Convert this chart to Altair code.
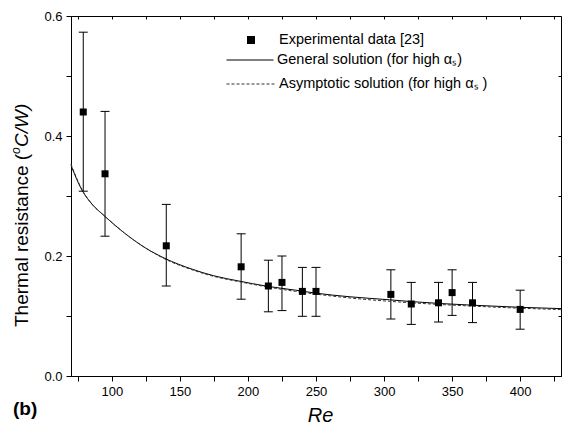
import altair as alt
import pandas as pd

# Experimental data [23]
re_exp = [79, 95, 140, 195, 215, 225, 240, 250, 305, 320, 340, 350, 365, 400]
r_exp = [0.440, 0.337, 0.217, 0.182, 0.150, 0.156, 0.141, 0.141, 0.136, 0.120, 0.122, 0.139, 0.122, 0.111]
r_hi = [0.573, 0.441, 0.286, 0.237, 0.193, 0.200, 0.181, 0.181, 0.177, 0.156, 0.156, 0.177, 0.156, 0.143]
r_lo = [0.308, 0.233, 0.150, 0.128, 0.107, 0.109, 0.0995, 0.0995, 0.095, 0.086, 0.090, 0.101, 0.089, 0.078]

# General solution
re_gen = [70, 78, 86, 94, 110, 125, 139, 159, 175, 194, 213, 235, 250, 275, 304, 320, 365, 400, 430]
r_gen = [0.351, 0.310, 0.285, 0.268, 0.237, 0.213, 0.196, 0.178, 0.167, 0.158, 0.150, 0.143, 0.138,
         0.132, 0.127, 0.124, 0.118, 0.1145, 0.1123]

# Asymptotic solution
re_asy = [70, 78, 86, 94, 110, 125, 139, 159, 175, 194, 213, 235, 250, 275, 304, 320, 365, 400, 430]
r_asy = [0.353, 0.311, 0.285, 0.268, 0.237, 0.213, 0.195, 0.177, 0.166, 0.157, 0.149, 0.141, 0.1365,
         0.130, 0.1245, 0.122, 0.1165, 0.113, 0.1107]

x_ticks = [75, 100, 125, 150, 175, 200, 225, 250, 275, 300, 325, 350, 375, 400, 425]
y_ticks = [0.0, 0.1, 0.2, 0.3, 0.4, 0.5, 0.6]

FONT = "Liberation Sans"

exp_df = pd.DataFrame({"re": re_exp, "r": r_exp, "hi": r_hi, "lo": r_lo})
gen_df = pd.DataFrame({"re": re_gen, "r": r_gen})
asy_df = pd.DataFrame({"re": re_asy, "r": r_asy})
one = pd.DataFrame({"a": [0]})

xs = alt.Scale(domain=[70, 430], nice=False, zero=False)
ys = alt.Scale(domain=[0, 0.6], nice=False, zero=False)

# error bars carry the inward top / right ticks
errbars = alt.Chart(exp_df).mark_rule(color="#000", strokeWidth=1).encode(
    x=alt.X("re:Q", scale=xs, axis=alt.Axis(orient="top", values=x_ticks, labels=False, domain=False,
                                             tickSize=3, offset=-3, tickColor="#000", title=None, grid=False)),
    y=alt.Y("lo:Q", scale=ys, axis=alt.Axis(orient="right", values=y_ticks, labels=False, domain=False,
                                             tickSize=3, offset=-3, tickColor="#000", title=None, grid=False)),
    y2="hi:Q",
)
cap_hi = alt.Chart(exp_df).mark_rule(color="#000", strokeWidth=1, xOffset=-4.5, x2Offset=4.5).encode(
    x=alt.X("re:Q", scale=xs, axis=None), x2="re:Q", y=alt.Y("hi:Q", scale=ys, axis=None))
cap_lo = alt.Chart(exp_df).mark_rule(color="#000", strokeWidth=1, xOffset=-4.5, x2Offset=4.5).encode(
    x=alt.X("re:Q", scale=xs, axis=None), x2="re:Q", y=alt.Y("lo:Q", scale=ys, axis=None))

gen_line = alt.Chart(gen_df).mark_line(color="#000", strokeWidth=1, interpolate="monotone").encode(
    x=alt.X("re:Q", scale=xs, axis=None), y=alt.Y("r:Q", scale=ys, axis=None))
asy_line = alt.Chart(asy_df).mark_line(color="#333", strokeWidth=1, strokeDash=[3, 2],
                                       interpolate="monotone").encode(
    x=alt.X("re:Q", scale=xs, axis=None), y=alt.Y("r:Q", scale=ys, axis=None))

points = alt.Chart(exp_df).mark_square(size=49, color="#000", opacity=1, filled=True).encode(
    x=alt.X("re:Q", scale=xs, axis=alt.Axis(
        orient="bottom", values=x_ticks, labelExpr="datum.value % 50 == 0 ? datum.label : ''",
        tickSize=5, labelPadding=4, labelFontSize=13, labelFont=FONT, labelColor="#000",
        tickColor="#000", domainColor="#000", grid=False,
        title="Re", titleFont=FONT, titleFontSize=20, titleFontStyle="italic", titleFontWeight="normal",
        titleColor="#000", titleX=249, titleY=45, titleBaseline="alphabetic", titleAlign="center")),
    y=alt.Y("r:Q", scale=ys, axis=alt.Axis(
        orient="left", values=y_ticks,
        labelExpr="round(datum.value*10) % 2 == 0 ? format(datum.value, '.1f') : ''",
        tickSize=5, labelPadding=4, labelFontSize=13, labelFont=FONT, labelColor="#000",
        tickColor="#000", domainColor="#000", grid=False, title=None)),
)


def txt(s, x, y, size=14.5, **kw):
    return alt.Chart(one).mark_text(text=s, font=FONT, fontSize=size, color="#000", **kw).encode(
        x=alt.value(x), y=alt.value(y))


# legend
leg_sq = alt.Chart(one).mark_square(size=64, color="#000", opacity=1, filled=True).encode(
    x=alt.value(180), y=alt.value(24))
leg_solid = alt.Chart(one).mark_rule(color="#000", strokeWidth=1).encode(
    x=alt.value(155.5), x2=alt.value(202.5), y=alt.value(44))
leg_dash = alt.Chart(one).mark_rule(color="#333", strokeWidth=1, strokeDash=[3, 2]).encode(
    x=alt.value(155.5), x2=alt.value(204), y=alt.value(68))
leg_t1 = txt("Experimental data [23]", 208, 24, align="left", baseline="middle")
leg_t2 = txt("General solution (for high \u03b1\u209b)", 206, 44, align="left", baseline="middle")
leg_t3 = txt("Asymptotic solution (for high \u03b1\u209b )", 208, 68, align="left", baseline="middle")

# y-axis title (mixed upright / italic)
yt1 = txt("Thermal resistance (", -49, 311, size=19, angle=270, align="left", baseline="middle")
yt2 = txt("o", -55, 138, size=12, angle=270, align="left", baseline="middle", fontStyle="italic")
yt3 = txt("C/W)", -49, 131, size=19, angle=270, align="left", baseline="middle", fontStyle="italic")

panel = txt("(b)", -58, 399, size=19, align="left", baseline="alphabetic", fontWeight="bold")

chart = alt.layer(
    errbars, cap_hi, cap_lo, gen_line, asy_line, points,
    leg_sq, leg_solid, leg_dash, leg_t1, leg_t2, leg_t3, yt1, yt2, yt3, panel,
).resolve_axis(x="independent", y="independent").properties(
    width=490, height=360,
    autosize=alt.AutoSizeParams(type="none"),
    padding={"left": 71, "top": 16, "right": 13, "bottom": 49},
    background="white",
).configure_view(stroke="#000", strokeWidth=1)

chart.save("out.html", embed_options={"renderer": "svg", "actions": False})
